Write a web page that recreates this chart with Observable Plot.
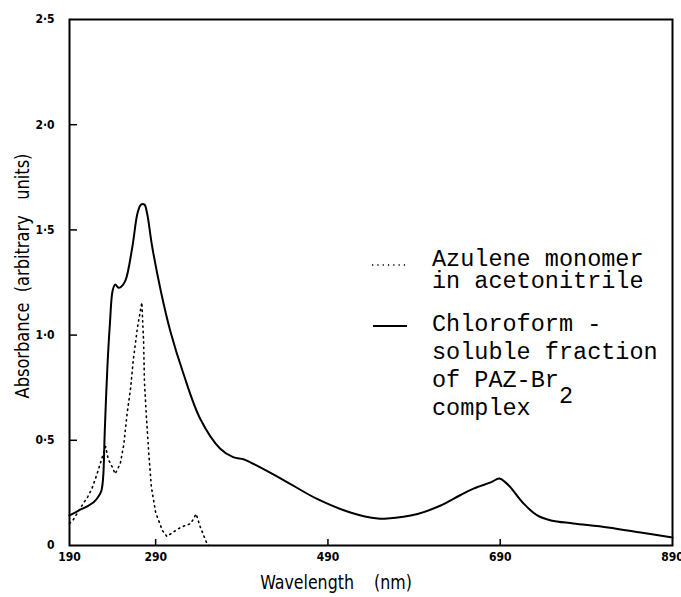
<!DOCTYPE html>
<html>
<head>
<meta charset="utf-8">
<script src="https://cdn.jsdelivr.net/npm/d3@7"></script>
<script src="https://cdn.jsdelivr.net/npm/@observablehq/plot@0.6"></script>
<style>
  html, body { margin: 0; padding: 0; background: #fff; }
  #chart { width: 681px; height: 597px; }
</style>
</head>
<body>
<div id="chart"></div>
<script>
// Chloroform-soluble fraction of PAZ-Br2 complex (solid)
const chloroWl  = [190, 200, 210, 218, 224, 227, 229, 231, 234, 237, 240, 243, 247, 250, 255, 263, 269, 273, 277, 280, 286, 296, 307, 322, 342, 365, 380, 392, 400, 412, 439, 478, 516, 548, 559, 594, 621, 644, 659, 679, 689, 696, 702, 717, 733, 749, 775, 815, 853, 890];
const chloroAbs = [0.143, 0.165, 0.185, 0.205, 0.235, 0.26, 0.32, 0.55, 0.85, 1.06, 1.21, 1.24, 1.225, 1.23, 1.26, 1.42, 1.58, 1.62, 1.62, 1.58, 1.42, 1.21, 1.02, 0.82, 0.60, 0.46, 0.42, 0.41, 0.395, 0.37, 0.31, 0.22, 0.157, 0.128, 0.128, 0.15, 0.19, 0.24, 0.27, 0.30, 0.318, 0.30, 0.276, 0.20, 0.143, 0.119, 0.105, 0.086, 0.062, 0.038];

// Azulene monomer in acetonitrile (dotted)
const azuWl  = [190, 194, 200, 206, 211, 216, 222, 228, 232, 235, 240, 243, 249, 253, 257, 261, 264, 269, 274, 276, 277, 279, 282, 285, 290, 298, 303, 311, 319, 331, 337, 342, 349, 352];
const azuAbs = [0.105, 0.12, 0.16, 0.2, 0.23, 0.27, 0.34, 0.42, 0.47, 0.41, 0.37, 0.34, 0.39, 0.48, 0.63, 0.75, 0.88, 1.04, 1.155, 0.97, 0.78, 0.63, 0.44, 0.28, 0.157, 0.07, 0.043, 0.065, 0.086, 0.105, 0.15, 0.086, 0.015, 0];

const xTickLabels = [190, 290, 490, 690, 890];
const xInnerTicks = [290, 490, 690];
const yTickLabels = [0, 0.5, 1.0, 1.5, 2.0, 2.5];
const yInnerTicks = [0.5, 1.0, 1.5, 2.0];

const xTitle = "Wavelength\u00a0\u00a0\u00a0\u00a0(nm)";
const yTitle = "Absorbance\u00a0\u00a0(arbitrary\u00a0\u00a0\u00a0units)";
const legendAzulene = ["Azulene monomer", "in acetonitrile"];
const legendChloro = ["Chloroform -", "soluble fraction", "of PAZ-Br", "2", "complex"];

const chloro = chloroWl.map((w, i) => ({wl: w, abs: chloroAbs[i]}));
const azu = azuWl.map((w, i) => ({wl: w, abs: azuAbs[i]}));

const W = 681, H = 597;
const mL = 69, mR = 9, mT = 19, mB = 52;
const innerW = W - mL - mR, innerH = H - mT - mB;
const condFont = "'DejaVu Sans Condensed', 'DejaVu Sans', sans-serif";

const yFmt = d => d === 0 ? "0" : d3.format(".1f")(d).replace(".", "\u00b7");

const plot = Plot.plot({
  width: W,
  height: H,
  marginLeft: mL,
  marginRight: mR,
  marginTop: mT,
  marginBottom: mB,
  style: {background: "#fff", overflow: "visible"},
  x: {domain: [190, 890]},
  y: {domain: [0, 2.5]},
  marks: [
    Plot.line(azu, {x: "wl", y: "abs", stroke: "#000", strokeWidth: 1.6, strokeDasharray: "1.3,4"}),
    Plot.line(chloro, {x: "wl", y: "abs", stroke: "#000", strokeWidth: 2, curve: "catmull-rom"}),
    Plot.frame({stroke: "#000", strokeWidth: 2}),
    Plot.tickX(xInnerTicks, {x: d => d, stroke: "#000", strokeWidth: 1.5, insetTop: innerH - 6}),
    Plot.tickY(yInnerTicks, {y: d => d, stroke: "#000", strokeWidth: 1.5, insetRight: innerW - 8}),
    Plot.axisX(xTickLabels, {tickSize: 0, tickPadding: 7, label: null, fontSize: 12, fontFamily: condFont, fontWeight: "bold", tickFormat: d => String(d)}),
    Plot.axisY(yTickLabels, {tickSize: 0, tickPadding: 15, label: null, fontSize: 12, fontFamily: condFont, fontWeight: "bold", tickFormat: yFmt})
  ]
});

document.getElementById("chart").appendChild(plot);

const svg = d3.select(plot);

// Axis titles
svg.append("text")
  .attr("transform", "translate(336,589) scale(0.88,1)")
  .attr("text-anchor", "middle")
  .attr("font-family", condFont).attr("font-size", 20).attr("fill", "#000")
  .text(xTitle);
svg.append("text")
  .attr("transform", "translate(29,276) rotate(-90) scale(0.95,1)")
  .attr("text-anchor", "middle")
  .attr("font-family", condFont).attr("font-size", 19).attr("fill", "#000")
  .text(yTitle);

// Legend
const g = svg.append("g")
  .attr("font-family", "'Courier New', 'Liberation Mono', monospace")
  .attr("font-size", 23.5).attr("fill", "#000").attr("text-anchor", "start");
g.append("line").attr("x1", 372).attr("x2", 408).attr("y1", 265).attr("y2", 265)
  .attr("stroke", "#000").attr("stroke-width", 1.5).attr("stroke-dasharray", "1.3,4");
g.append("line").attr("x1", 373).attr("x2", 407).attr("y1", 326).attr("y2", 326)
  .attr("stroke", "#000").attr("stroke-width", 2);
const tx = 432;
g.append("text").attr("x", tx).attr("y", 266).text(legendAzulene[0]);
g.append("text").attr("x", tx).attr("y", 288).text(legendAzulene[1]);
g.append("text").attr("x", tx).attr("y", 331).text(legendChloro[0]);
g.append("text").attr("x", tx).attr("y", 359).text(legendChloro[1]);
const t3 = g.append("text").attr("x", tx).attr("y", 387);
t3.append("tspan").text(legendChloro[2]);
t3.append("tspan").attr("dy", 16).text(legendChloro[3]);
g.append("text").attr("x", tx).attr("y", 415).text(legendChloro[4]);
</script>
</body>
</html>
